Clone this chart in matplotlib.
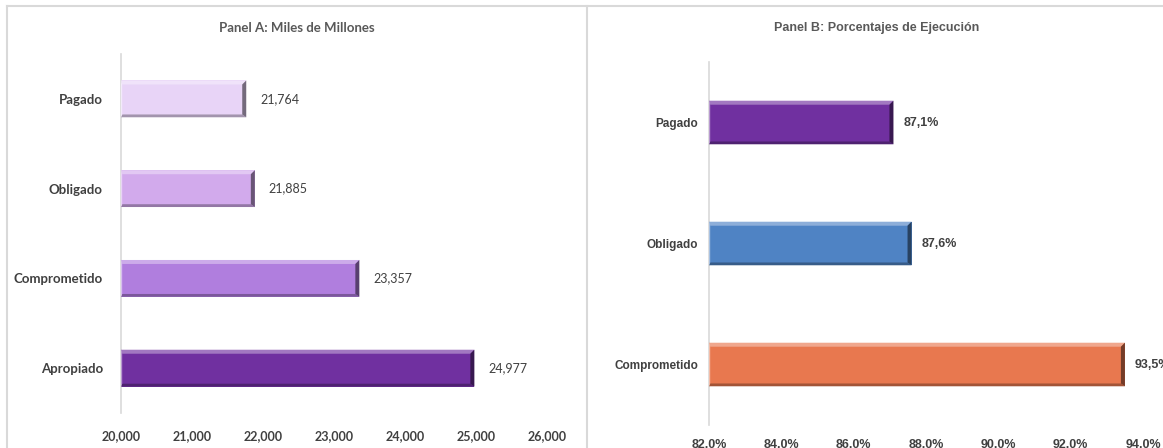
import numpy as np
import matplotlib
matplotlib.use("Agg")
import matplotlib.pyplot as plt
from matplotlib.patches import Polygon
from matplotlib.lines import Line2D
from matplotlib.colors import to_rgb

# Panel A data (miles de millones)
cats_a = ["Pagado", "Obligado", "Comprometido", "Apropiado"]
vals_a = [21764, 21885, 23357, 24977]
cols_a = ["#e8d4f7", "#d2aaec", "#b07ede", "#7030a0"]
ticks_a = [20000, 21000, 22000, 23000, 24000, 25000, 26000]

# Panel B data (porcentajes de ejecucion)
cats_b = ["Pagado", "Obligado", "Comprometido"]
vals_b = [87.1, 87.6, 93.5]
cols_b = ["#7030a0", "#4f83c4", "#e8784f"]
ticks_b = [82, 84, 86, 88, 90, 92, 94]

W, H = 1163, 448
fig = plt.figure(figsize=(W / 100, H / 100), dpi=100)
fig.patch.set_facecolor("white")

text_col = "#404040"
title_col = "#595959"
grid_col = "#d9d9d9"


def mix(c, other, t):
    c = np.array(to_rgb(c))
    return tuple(c * (1 - t) + np.array(other) * t)


def bevel_bars(ax, cats, vals, cols, x0, height):
    n = len(cats)
    ypos = np.arange(n)[::-1]
    ax.barh(ypos, np.array(vals) - x0, left=x0, height=height, color=cols,
            edgecolor="none", zorder=2)
    fig.canvas.draw()
    bb = ax.get_window_extent()
    xl, yl = ax.get_xlim(), ax.get_ylim()
    ux = (xl[1] - xl[0]) / bb.width
    uy = (yl[1] - yl[0]) / bb.height
    b = 4.0
    for y, v, c in zip(ypos, vals, cols):
        top, bot = y + height / 2, y - height / 2
        bx, by = b * ux, b * uy
        light = mix(c, (1, 1, 1), 0.35)
        dark = mix(c, (0, 0, 0), 0.3)
        darker = mix(c, (0, 0, 0), 0.5)
        # top highlight
        ax.add_patch(Polygon([(x0, top), (v, top), (v - bx, top - by), (x0 + bx * 0.3, top - by)],
                             closed=True, facecolor=light, edgecolor="none", zorder=3))
        # bottom shadow
        ax.add_patch(Polygon([(x0, bot), (v, bot), (v - bx, bot + by * 0.7), (x0 + bx * 0.3, bot + by * 0.7)],
                             closed=True, facecolor=dark, edgecolor="none", zorder=3))
        # right edge
        ax.add_patch(Polygon([(v, top), (v, bot), (v - bx, bot + by * 0.7), (v - bx, top - by)],
                             closed=True, facecolor=darker, edgecolor="none", zorder=3))
        # left edge, thin light
        ax.add_patch(Polygon([(x0, top), (x0, bot), (x0 + bx * 0.3, bot + by * 0.7), (x0 + bx * 0.3, top - by)],
                             closed=True, facecolor=mix(c, (1, 1, 1), 0.5), edgecolor="none", zorder=3))
    return ypos


def style_axes(ax):
    for s in ["top", "right", "bottom"]:
        ax.spines[s].set_visible(False)
    ax.spines["left"].set_color(grid_col)
    ax.spines["left"].set_linewidth(1.2)
    ax.tick_params(axis="both", length=0)


# ---- Panel A ----
ax1 = fig.add_axes([121 / W, (H - 413) / H, 426 / W, 359 / H])
ax1.set_xlim(20000, 26000)
ax1.set_ylim(-0.5, 3.5)
style_axes(ax1)
ypos_a = bevel_bars(ax1, cats_a, vals_a, cols_a, 20000, 0.41)
ax1.set_yticks(ypos_a)
ax1.set_yticklabels(cats_a, fontfamily="Lato", fontweight="bold", fontsize=9.5, color=text_col)
ax1.tick_params(axis="y", pad=13)
ax1.set_xticks(ticks_a)
ax1.set_xticklabels([f"{t:,}" for t in ticks_a], fontfamily="Lato", fontweight="bold",
                    fontsize=9, color=text_col)
ax1.tick_params(axis="x", pad=12)
for y, v in zip(ypos_a, vals_a):
    ax1.annotate(f"{v:,}", (v, y), xytext=(10, 0), textcoords="offset points",
                 va="center", ha="left", fontfamily="Lato", fontsize=9, color=text_col)

# ---- Panel B ----
ax2 = fig.add_axes([709 / W, (H - 425) / H, 434 / W, 363 / H])
ax2.set_xlim(82, 94)
ax2.set_ylim(-0.5, 2.5)
style_axes(ax2)
ypos_b = bevel_bars(ax2, cats_b, vals_b, cols_b, 82, 0.36)
ax2.set_yticks(ypos_b)
ax2.set_yticklabels(cats_b, fontfamily="Liberation Sans", fontweight="bold", fontsize=8.5, color=text_col)
ax2.tick_params(axis="y", pad=8)
ax2.set_xticks(ticks_b)
ax2.set_xticklabels([f"{t:.1f}%".replace(".", ",") for t in ticks_b], fontfamily="Liberation Sans",
                    fontweight="bold", fontsize=9, color=text_col)
ax2.tick_params(axis="x", pad=10)
for y, v in zip(ypos_b, vals_b):
    ax2.annotate(f"{v:.1f}%".replace(".", ","), (v, y), xytext=(7, 0), textcoords="offset points",
                 va="center", ha="left", fontfamily="Liberation Sans", fontweight="bold",
                 fontsize=9, color=text_col, annotation_clip=False)

# titles
fig.text(297 / W, 1 - 28 / H, "Panel A: Miles de Millones", ha="center", va="center",
         fontfamily="Lato", fontweight="bold", fontsize=9.5, color=title_col)
fig.text(877 / W, 1 - 28 / H, "Panel B: Porcentajes de Ejecución", ha="center", va="center",
         fontfamily="Liberation Sans", fontweight="bold", fontsize=9, color=title_col)

# panel frames
frame_kw = dict(color=grid_col, linewidth=1.5, transform=fig.transFigure)
fig.add_artist(Line2D([7 / W, 1], [1 - 6.5 / H, 1 - 6.5 / H], **frame_kw))
fig.add_artist(Line2D([7 / W, 7 / W], [0, 1 - 6.5 / H], **frame_kw))
fig.add_artist(Line2D([587 / W, 587 / W], [0, 1 - 6.5 / H], **frame_kw))

fig.savefig("out.png", dpi=100)
